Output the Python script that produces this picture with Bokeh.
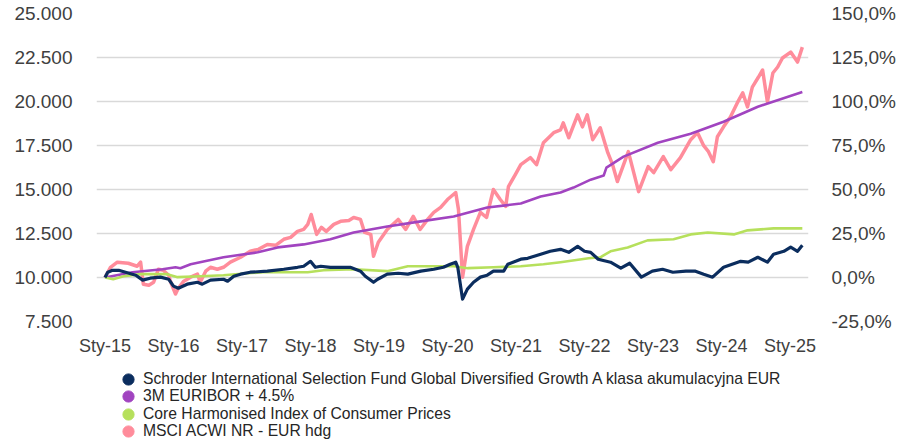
from bokeh.plotting import figure
from bokeh.layouts import column
from bokeh.models import Range1d, LinearAxis, FixedTicker, Legend, LegendItem
from bokeh.embed import file_html
from bokeh.resources import INLINE

# ---------------- data (x in decimal years, values: growth of 10 000) ----------------
x_ticks = [2015, 2016, 2017, 2018, 2019, 2020, 2021, 2022, 2023, 2024, 2025]
x_labels = ["Sty-15", "Sty-16", "Sty-17", "Sty-18", "Sty-19", "Sty-20",
            "Sty-21", "Sty-22", "Sty-23", "Sty-24", "Sty-25"]
left_ticks = [7500, 10000, 12500, 15000, 17500, 20000, 22500, 25000]
left_labels = ["7.500", "10.000", "12.500", "15.000", "17.500", "20.000", "22.500", "25.000"]
right_ticks = [-0.25, 0.0, 0.25, 0.5, 0.75, 1.0, 1.25, 1.5]
right_labels = ["-25,0%", "0,0%", "25,0%", "50,0%", "75,0%", "100,0%", "125,0%", "150,0%"]

series_names = [
    "Schroder International Selection Fund Global Diversified Growth A klasa akumulacyjna EUR",
    "3M EURIBOR + 4.5%",
    "Core Harmonised Index of Consumer Prices",
    "MSCI ACWI NR - EUR hdg",
]

fund_x = [2015.00, 2015.04, 2015.11, 2015.20, 2015.30, 2015.45, 2015.55, 2015.66, 2015.81, 2015.93,
          2016.00, 2016.07, 2016.20, 2016.35, 2016.42, 2016.54, 2016.73, 2016.79, 2016.88, 2016.98,
          2017.12, 2017.37, 2017.61, 2017.81, 2017.90, 2018.00, 2018.07, 2018.15, 2018.29, 2018.44,
          2018.58, 2018.73, 2018.80, 2018.92, 2018.98, 2019.12, 2019.28, 2019.42, 2019.61, 2019.80,
          2019.94, 2020.04, 2020.12, 2020.15, 2020.22, 2020.29, 2020.38, 2020.48, 2020.58, 2020.67,
          2020.82, 2020.88, 2021.07, 2021.17, 2021.36, 2021.50, 2021.65, 2021.77, 2021.90, 2022.00,
          2022.09, 2022.20, 2022.38, 2022.53, 2022.66, 2022.83, 2022.99, 2023.14, 2023.29, 2023.48,
          2023.62, 2023.74, 2023.87, 2024.03, 2024.28, 2024.39, 2024.53, 2024.67, 2024.76, 2024.91,
          2025.01, 2025.11, 2025.18]
fund_y = [10000, 10300, 10410, 10410, 10300, 10130, 9850, 9960, 10020, 9900,
          9510, 9390, 9620, 9730, 9620, 9850, 9900, 9790, 10070, 10190,
          10300, 10360, 10470, 10580, 10640, 10920, 10580, 10640, 10580, 10580,
          10580, 10360, 10070, 9730, 9900, 10190, 10240, 10190, 10360, 10470,
          10580, 10750, 10870, 10580, 8770, 9340, 9730, 10020, 10130, 10360,
          10360, 10750, 11040, 11090, 11320, 11490, 11600, 11430, 11770, 11490,
          11430, 11040, 10870, 10530, 10810, 10020, 10360, 10470, 10300, 10360,
          10360, 10190, 10020, 10580, 10920, 10870, 11150, 10870, 11320, 11490,
          11720, 11490, 11830]

euribor_x = [2015.00, 2015.40, 2015.84, 2016.03, 2016.10, 2016.25, 2016.73, 2017.23, 2017.52, 2017.90,
             2018.29, 2018.63, 2019.12, 2019.61, 2020.09, 2020.58, 2021.07, 2021.36, 2021.65, 2021.84,
             2022.09, 2022.28, 2022.32, 2022.57, 2023.07, 2023.55, 2024.03, 2024.53, 2025.18]
euribor_y = [10000, 10300, 10470, 10580, 10530, 10750, 11150, 11430, 11710, 11880,
             12170, 12560, 12900, 13190, 13470, 13980, 14200, 14600, 14830, 15110,
             15560, 15790, 16240, 16870, 17660, 18170, 18850, 19700, 20540]

hicp_x = [2015.00, 2015.12, 2015.27, 2015.52, 2015.91, 2016.06, 2016.39, 2016.73, 2017.08, 2017.31,
          2017.96, 2018.19, 2018.63, 2019.12, 2019.42, 2020.09, 2020.30, 2020.67, 2021.07, 2021.40,
          2021.65, 2022.06, 2022.23, 2022.38, 2022.63, 2022.92, 2023.30, 2023.55, 2023.80, 2024.18,
          2024.38, 2024.76, 2025.18]
hicp_y = [10000, 9900, 10070, 10190, 10190, 10020, 10070, 10130, 10240, 10300,
          10300, 10410, 10470, 10360, 10640, 10640, 10530, 10580, 10640, 10750,
          10870, 11090, 11150, 11490, 11710, 12110, 12170, 12450, 12560, 12450,
          12680, 12790, 12790]

msci_x = [2015.00, 2015.08, 2015.18, 2015.34, 2015.47, 2015.52, 2015.56, 2015.64, 2015.71, 2015.78,
          2015.85, 2015.93, 2015.96, 2016.03, 2016.07, 2016.15, 2016.25, 2016.35, 2016.39, 2016.47,
          2016.54, 2016.64, 2016.73, 2016.83, 2016.98, 2017.12, 2017.24, 2017.37, 2017.49, 2017.61,
          2017.71, 2017.81, 2017.90, 2017.96, 2018.01, 2018.09, 2018.16, 2018.23, 2018.34, 2018.44,
          2018.56, 2018.63, 2018.73, 2018.79, 2018.88, 2018.92, 2018.99, 2019.12, 2019.28, 2019.39,
          2019.50, 2019.60, 2019.71, 2019.80, 2019.90, 2020.00, 2020.12, 2020.16, 2020.22, 2020.29,
          2020.38, 2020.48, 2020.57, 2020.67, 2020.77, 2020.85, 2020.89, 2020.99, 2021.07, 2021.21,
          2021.30, 2021.40, 2021.55, 2021.65, 2021.69, 2021.77, 2021.90, 2021.97, 2022.04, 2022.12,
          2022.23, 2022.34, 2022.41, 2022.48, 2022.64, 2022.79, 2022.93, 2023.01, 2023.15, 2023.26,
          2023.40, 2023.55, 2023.65, 2023.74, 2023.81, 2023.88, 2023.94, 2024.03, 2024.13, 2024.23,
          2024.31, 2024.38, 2024.45, 2024.54, 2024.60, 2024.67, 2024.75, 2024.82, 2024.89, 2025.01,
          2025.11, 2025.18]
msci_y = [10000, 10580, 10870, 10810, 10640, 10870, 9620, 9560, 9730, 10470,
          10410, 10130, 9730, 9060, 9390, 9790, 10020, 10190, 9730, 10360,
          10580, 10470, 10580, 10870, 11150, 11490, 11600, 11880, 11830, 12170,
          12280, 12620, 12730, 13020, 13580, 12450, 12850, 12620, 13020, 13190,
          13240, 13410, 13300, 12560, 12450, 11210, 12000, 12730, 13300, 12730,
          13470, 12730, 13300, 13700, 13980, 14430, 14830, 13870, 10020, 11770,
          12730, 13700, 13410, 15000, 14430, 14040, 15170, 15850, 16410, 16810,
          16410, 17660, 18230, 18390, 18790, 17940, 19240, 18560, 19240, 17830,
          18510, 17090, 16410, 15450, 17150, 14880, 16300, 15960, 16870, 16130,
          16810, 17830, 18230, 17490, 17150, 16580, 18000, 18560, 19120, 19920,
          20490, 19690, 20820, 21390, 21790, 19980, 21620, 21960, 22470, 22810,
          22240, 23090]

colors = ["#0B2D5E", "#A144C0", "#B6E05C", "#FF8C9B"]
series_x = [fund_x, euribor_x, hicp_x, msci_x]
series_y = [fund_y, euribor_y, hicp_y, msci_y]

axis_font = "Liberation Sans"
axis_color = "#404040"

# ---------------- main chart ----------------
p = figure(width=898, height=360, output_backend="svg", toolbar_location=None,
           x_range=Range1d(2014.876, 2025.27), y_range=Range1d(7500, 25000),
           min_border_left=96, min_border_right=90, min_border_top=13, min_border_bottom=39)
p.outline_line_color = None
p.background_fill_color = "white"
p.border_fill_color = "white"

p.extra_y_ranges = {"pct": Range1d(-0.25, 1.5)}

p.xaxis.ticker = FixedTicker(ticks=x_ticks)
p.xaxis.major_label_overrides = {t: l for t, l in zip(x_ticks, x_labels)}
p.yaxis.ticker = FixedTicker(ticks=left_ticks)
p.yaxis.major_label_overrides = {t: l for t, l in zip(left_ticks, left_labels)}
ra = LinearAxis(y_range_name="pct", ticker=FixedTicker(ticks=right_ticks))
ra.major_label_overrides = {t: l for t, l in zip(right_ticks, right_labels)}
p.add_layout(ra, "right")

for ax in [p.xaxis[0], p.yaxis[0], ra]:
    ax.axis_line_color = None
    ax.major_tick_line_color = None
    ax.minor_tick_line_color = None
    ax.major_tick_out = 0
    ax.major_tick_in = 0
    ax.major_label_text_font = axis_font
    ax.major_label_text_color = axis_color
p.xaxis.major_label_text_font_size = "18px"
p.yaxis.major_label_text_font_size = "19px"
ra.major_label_text_font_size = "19px"
p.xaxis.major_label_standoff = 14
p.yaxis.major_label_standoff = 24
ra.major_label_standoff = 23

p.xgrid.grid_line_color = None
p.ygrid.ticker = FixedTicker(ticks=left_ticks)
p.ygrid.grid_line_color = "#d9d9d9"
p.ygrid.grid_line_width = 1.5

p.line(msci_x, msci_y, color=colors[3], line_width=3.5, line_join="round")
p.line(euribor_x, euribor_y, color=colors[1], line_width=2.6, line_join="round")
p.line(hicp_x, hicp_y, color=colors[2], line_width=2.6, line_join="round")
p.line(fund_x, fund_y, color=colors[0], line_width=3.2, line_join="round")

# ---------------- legend strip ----------------
lg = figure(width=898, height=82, output_backend="svg", toolbar_location=None,
            x_range=Range1d(0, 1), y_range=Range1d(0, 1),
            min_border_left=0, min_border_right=0, min_border_top=0, min_border_bottom=0)
lg.axis.visible = False
lg.grid.visible = False
lg.outline_line_color = None
lg.background_fill_color = "white"
lg.border_fill_color = "white"

# one legend per row (circle keys); the key renderers hold the series but lie
# outside this strip's view, so only their legend dots are seen
row_offsets = [49.5, 32.0, 14.5, -3.0]
for name, c, sx, sy, off in zip(series_names, colors, series_x, series_y, row_offsets):
    r = lg.scatter(x=sx, y=sy, marker="circle", fill_color=c, line_color=c, size=11)
    leg = Legend(items=[LegendItem(label=name, renderers=[r])], location=(18, off),
                 orientation="vertical", glyph_width=28, glyph_height=28,
                 label_height=17, spacing=0, label_standoff=1, padding=0, margin=0,
                 border_line_color=None, background_fill_alpha=0,
                 label_text_font=axis_font, label_text_font_size="15.7px",
                 label_text_color="#262626")
    lg.add_layout(leg, "center")

layout = column(p, lg, spacing=0)
open("out.html", "w").write(file_html(layout, INLINE))
